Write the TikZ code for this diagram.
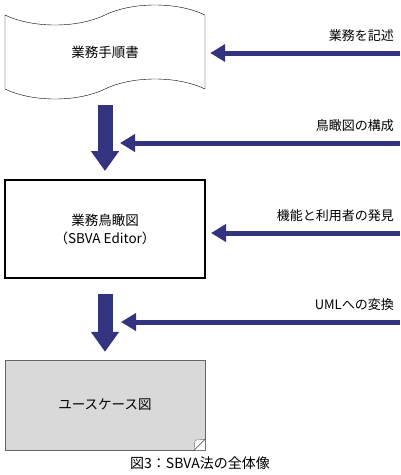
\documentclass[tikz,border=0pt]{standalone}
\usepackage{fontspec}
\setmainfont{Noto Sans CJK JP}
\usetikzlibrary{arrows.meta,positioning,shapes.symbols,calc}
\definecolor{flowblue}{RGB}{51,51,128}

\begin{document}
\begin{tikzpicture}[x=1pt,y=-1pt,
    box/.style={draw,minimum width=200pt,align=center,font=\fontsize{13.5}{18}\selectfont},
    flow/.style={flowblue,line width=5pt,-{Triangle[length=15pt,width=17pt]}},
    bigflow/.style={flowblue,line width=15pt,-{Triangle[length=20pt,width=27pt]}},
    lbl/.style={inner sep=0pt,font=\fontsize{13}{15}\selectfont}]
 \useasboundingbox (0,0) rectangle (400,475);
 \node[box,tape,tape bend height=20pt,minimum height=94pt] (doc) at (105,52) {業務手順書};
 \node[box,line width=2pt,minimum height=98pt] (edt) at (105,229) {業務鳥瞰図\\（SBVA Editor）};
 \node[box,draw=black!60,fill=black!15,minimum height=90pt] (uc) at (105,405) {ユースケース図};
 \fill[white] (uc.south east) -- ++(-11,0) -- ++(11,-11) -- cycle;
 \filldraw[draw=black!60,fill=white] ($(uc.south east)+(-11,0)$) .. controls ++(0,-4) .. ++(1,-10) -- ++(10,-1);
 \draw ($(uc.south east)+(-11,0)$) -- ++(11,-11);
 \foreach \Y/\N in {53/1,143/2,233/3,322/4} {\coordinate (in\N) at (400,\Y);}
 \node[lbl,above left=11pt and 6pt of in1] (l1) {業務を記述};
 \node[lbl,above left=11pt and 6pt of in2] (l2) {鳥瞰図の構成};
 \node[lbl,above left=11pt and 6pt of in3] (l3) {機能と利用者の発見};
 \node[lbl,above left=11pt and 6pt of in4] (l4) {UMLへの変換};
 \draw[bigflow,shorten <=16pt,shorten >=8pt] (doc.south) -- (edt.north);
 \draw[bigflow,shorten <=15pt,shorten >=8pt] (edt.south) -- (uc.north);
 \draw[flow,shorten >=5pt] (in1) -- (in1 -| doc.east);
 \draw[flow,shorten >=15pt] (in2) -- (in2 -| edt.north);
 \draw[flow,shorten >=5pt] (in3) -- (in3 -| edt.east);
 \draw[flow,shorten >=16pt] (in4) -- (in4 -| uc.north);
 \node[lbl,font=\fontsize{14}{16}\selectfont] (cap) at (200,463) {図3：SBVA法の全体像};
\end{tikzpicture}
\end{document}
